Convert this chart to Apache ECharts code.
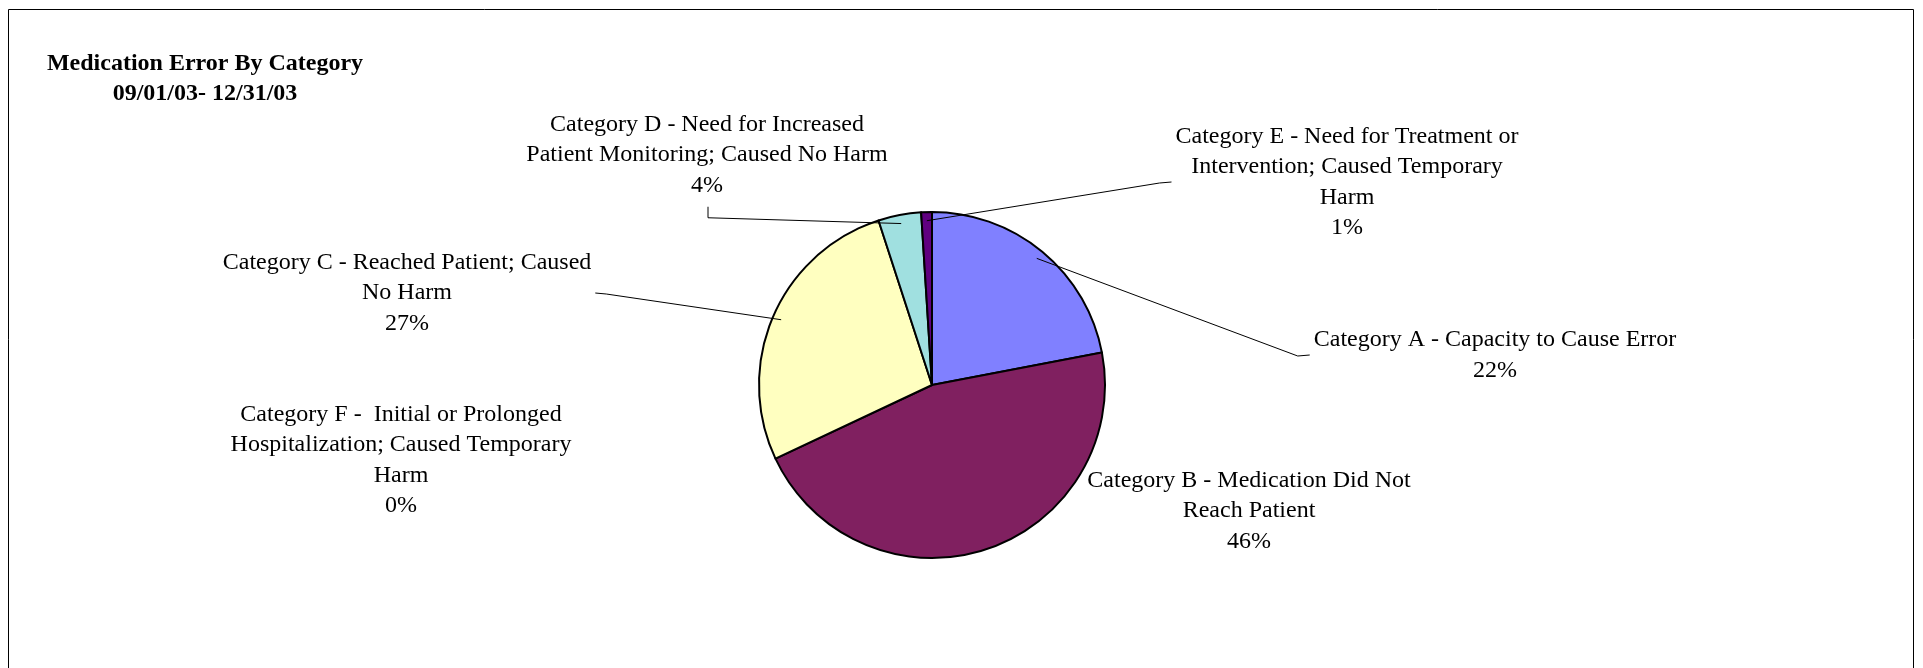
<!DOCTYPE html>
<html>
<head>
<meta charset="utf-8">
<script src="https://cdn.jsdelivr.net/npm/echarts@6/dist/echarts.min.js"></script>
<style>
html,body{margin:0;padding:0;background:#fff;}
#c{width:1923px;height:668px;}
</style>
</head>
<body>
<div id="c"></div>
<script>
// ---- data ----
const titleText = 'Medication Error By Category';
const periodText = '09/01/03- 12/31/03';
const categories = [
  'Category A - Capacity to Cause Error',
  'Category B - Medication Did Not Reach Patient',
  'Category C - Reached Patient; Caused No Harm',
  'Category D - Need for Increased Patient Monitoring; Caused No Harm',
  'Category E - Need for Treatment or Intervention; Caused Temporary Harm',
  'Category F -  Initial or Prolonged Hospitalization; Caused Temporary Harm'
];
const wrappedNames = [
  ['Category A - Capacity to Cause Error'],
  ['Category B - Medication Did Not', 'Reach Patient'],
  ['Category C - Reached Patient; Caused', 'No Harm'],
  ['Category D - Need for Increased', 'Patient Monitoring; Caused No Harm'],
  ['Category E - Need for Treatment or', 'Intervention; Caused Temporary', 'Harm'],
  ['Category F -  Initial or Prolonged', 'Hospitalization; Caused Temporary', 'Harm']
];
const values = [22, 46, 27, 4, 1, 0];
const colors = ['#8080FF', '#802060', '#FFFFC0', '#A0E0E0', '#600080', '#FF8080'];

// ---- layout ----
const FONT = '"Liberation Serif", "Times New Roman", serif';
const CX = 932, CY = 385, R = 173;
const labelPlace = [
  {x: 1495, y: 355, side: 'left'},
  {x: 1249, y: 511, side: null},
  {x: 407,  y: 293, side: 'right'},
  {x: 707,  y: 155, side: 'bottom'},
  {x: 1347, y: 182, side: 'left'},
  {x: 401,  y: 460, side: null}
];

const total = values.reduce((a, b) => a + b, 0);
// point inside the slice on its middle angle (leader line start)
function midAnchor(i, f) {
  let cum = 0;
  for (let k = 0; k < i; k++) cum += values[k];
  const mid = (cum + values[i] / 2) / total * Math.PI * 2;
  return [CX + Math.sin(mid) * R * f, CY - Math.cos(mid) * R * f];
}

const pieBase = {
  type: 'pie',
  center: [CX, CY],
  radius: R,
  startAngle: 90,
  clockwise: true,
  avoidLabelOverlap: false,
  stillShowZeroSum: true,
  emphasis: {disabled: true},
  silent: true
};

const chart = echarts.init(document.getElementById('c'), null, {renderer: 'canvas'});
chart.setOption({
  animation: false,
  backgroundColor: '#fff',
  title: {
    text: titleText + '\n' + periodText,
    left: 205,
    top: 49,
    padding: 0,
    textAlign: 'center',
    textStyle: {fontFamily: FONT, fontSize: 24, fontWeight: 'bold', color: '#000', lineHeight: 30}
  },
  graphic: [{
    type: 'rect', silent: true, z: -10,
    shape: {x: 8.5, y: 9.5, width: 1905, height: 700},
    style: {fill: 'none', stroke: '#000', lineWidth: 1}
  }],
  series: [
    // slices
    Object.assign({}, pieBase, {
      z: 2,
      itemStyle: {borderColor: '#000', borderWidth: 2},
      label: {show: false},
      labelLine: {show: false},
      data: values.map((v, i) => ({name: categories[i], value: v, itemStyle: {color: colors[i]}}))
    }),
    // labels + leader lines drawn above the slices
    Object.assign({}, pieBase, {
      z: 3,
      itemStyle: {color: 'rgba(0,0,0,0)', borderWidth: 0},
      label: {
        show: true,
        position: 'outside',
        color: '#000',
        fontFamily: FONT,
        fontSize: 24,
        lineHeight: 30.5,
        align: 'center',
        overflow: 'none',
        formatter: function (p) {
          return wrappedNames[p.dataIndex].join('\n') + '\n' + Math.round(p.percent) + '%';
        }
      },
      labelLine: {show: true, length: 10, length2: 10, smooth: false, lineStyle: {color: '#000', width: 1}},
      labelLayout: function (p) {
        const pl = labelPlace[p.dataIndex];
        const w = p.labelRect.width, h = p.labelRect.height;
        const out = {x: pl.x, y: pl.y, align: 'center', verticalAlign: 'middle'};
        if (pl.side) {
          const a = midAnchor(p.dataIndex, 0.95);
          let end, bend;
          if (pl.side === 'left') { end = [pl.x - w / 2 - 4, pl.y]; bend = [end[0] - 12, end[1] + 1]; }
          else if (pl.side === 'right') { end = [pl.x + w / 2 + 4, pl.y]; bend = [end[0] + 11, end[1] + 1]; }
          else { end = [pl.x + 1, pl.y + h / 2 + 6]; bend = [end[0], end[1] + 11]; }
          out.labelLinePoints = [a, bend, end];
        }
        return out;
      },
      data: values.map((v, i) => ({
        name: categories[i],
        value: v,
        labelLine: {show: labelPlace[i].side !== null}
      }))
    })
  ]
});
</script>
</body>
</html>
